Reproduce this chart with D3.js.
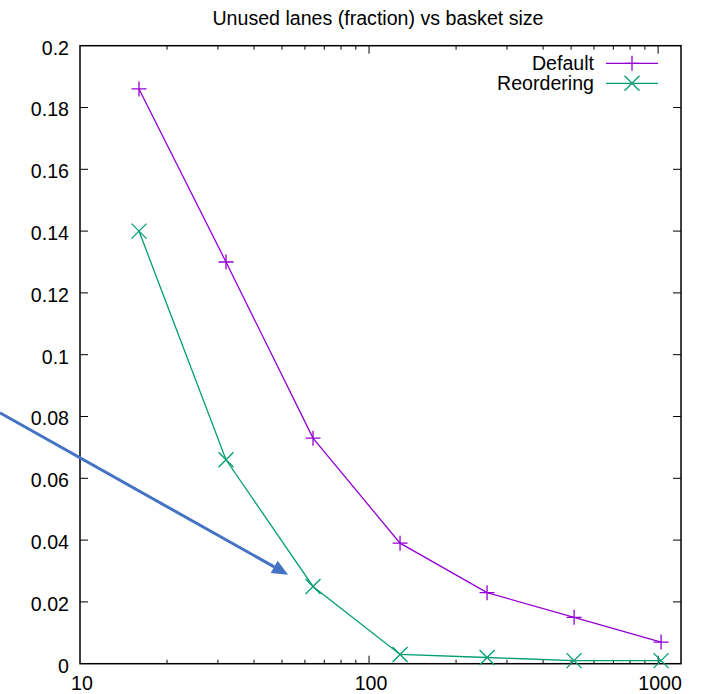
<!DOCTYPE html>
<html>
<head>
<meta charset="utf-8">
<script src="https://cdn.jsdelivr.net/npm/d3@7"></script>
<style>
  html, body { margin: 0; padding: 0; background: #fff; }
  svg { display: block; }
  text { font-family: "Liberation Sans", Arial, Helvetica, sans-serif; }
</style>
</head>
<body>
<svg id="chart" width="701" height="694"></svg>
<script>
// ---- data ----
const basketSizes = [16, 32, 64, 128, 256, 512, 1024];
const defaultValues = [0.186, 0.130, 0.073, 0.039, 0.023, 0.015, 0.007];
const reorderingValues = [0.140, 0.066, 0.025, 0.003, 0.002, 0.001, 0.001];
const seriesNames = ["Default", "Reordering"];
const xTickValues = [10, 100, 1000];
const xTickLabels = ["10", "100", "1000"];
const xMinorTicks = [20, 30, 40, 50, 60, 70, 80, 90, 200, 300, 400, 500, 600, 700, 800, 900];
const yTickValues = [0, 0.02, 0.04, 0.06, 0.08, 0.1, 0.12, 0.14, 0.16, 0.18, 0.2];
const yTickLabels = ["0", "0.02", "0.04", "0.06", "0.08", "0.1", "0.12", "0.14", "0.16", "0.18", "0.2"];
const titleText = "Unused lanes (fraction) vs basket size";
// annotation arrow (data coordinates): start (off left edge) -> tip
const arrowStart = [5.28, 0.0812];
const arrowTip = [52.5, 0.0288];

(function () {
// ---- layout ----
const svg = d3.select("#chart");
const mLeft = 80, mRight = 681, mTop = 45.7, mBottom = 663.7;
const x = d3.scaleLog().domain([10, 1200]).range([mLeft, mRight]);
const y = d3.scaleLinear().domain([0, 0.2]).range([mBottom, mTop]);
const fontSize = 19.6;
const colors = ["#9400d3", "#009e73"];

// title
svg.append("text")
  .attr("x", 378).attr("y", 25)
  .attr("text-anchor", "middle")
  .attr("font-size", fontSize)
  .attr("fill", "#000")
  .text(titleText);

const axes = svg.append("g");
const majorLen = 8, minorLen = 4;

// y ticks (left and mirrored right) + labels
yTickValues.forEach((v, i) => {
  const yy = y(v);
  if (v > 0 && v < 0.2) {
    axes.append("line").attr("x1", mLeft).attr("x2", mLeft + majorLen).attr("y1", yy).attr("y2", yy)
      .attr("stroke", "#000").attr("stroke-width", 1);
    axes.append("line").attr("x1", mRight).attr("x2", mRight - majorLen).attr("y1", yy).attr("y2", yy)
      .attr("stroke", "#000").attr("stroke-width", 1);
  }
  axes.append("text")
    .attr("x", mLeft - 11).attr("y", yy + 8.8)
    .attr("text-anchor", "end")
    .attr("font-size", fontSize)
    .text(yTickLabels[i]);
});

// x major ticks + labels
xTickValues.forEach((v, i) => {
  const xx = x(v);
  if (v > 10) {
    axes.append("line").attr("x1", xx).attr("x2", xx).attr("y1", mBottom).attr("y2", mBottom - majorLen)
      .attr("stroke", "#000").attr("stroke-width", 1);
    axes.append("line").attr("x1", xx).attr("x2", xx).attr("y1", mTop).attr("y2", mTop + majorLen)
      .attr("stroke", "#000").attr("stroke-width", 1);
  }
  axes.append("text")
    .attr("x", xx + 2).attr("y", 690)
    .attr("text-anchor", "middle")
    .attr("font-size", fontSize)
    .text(xTickLabels[i]);
});
// x minor ticks
xMinorTicks.forEach(v => {
  const xx = x(v);
  axes.append("line").attr("x1", xx).attr("x2", xx).attr("y1", mBottom).attr("y2", mBottom - minorLen)
    .attr("stroke", "#000").attr("stroke-width", 1);
  axes.append("line").attr("x1", xx).attr("x2", xx).attr("y1", mTop).attr("y2", mTop + minorLen)
    .attr("stroke", "#000").attr("stroke-width", 1);
});

// border
svg.append("rect")
  .attr("x", mLeft).attr("y", mTop)
  .attr("width", mRight - mLeft).attr("height", mBottom - mTop)
  .attr("fill", "none").attr("stroke", "#000").attr("stroke-width", 1.5);

// series
const series = [defaultValues, reorderingValues];
const line = d3.line().x(d => x(d[0])).y(d => y(d[1]));
const ms = 7.5;

function drawMarker(g, cx, cy, type, color) {
  if (type === 0) {
    g.append("path").attr("d", `M${cx - ms},${cy}H${cx + ms}M${cx},${cy - ms}V${cy + ms}`)
      .attr("stroke", color).attr("stroke-width", 1.3).attr("fill", "none");
  } else {
    g.append("path").attr("d", `M${cx - ms},${cy - ms}L${cx + ms},${cy + ms}M${cx - ms},${cy + ms}L${cx + ms},${cy - ms}`)
      .attr("stroke", color).attr("stroke-width", 1.3).attr("fill", "none");
  }
}

series.forEach((vals, si) => {
  const pts = basketSizes.map((b, i) => [b, vals[i]]);
  const g = svg.append("g");
  g.append("path").attr("d", line(pts))
    .attr("fill", "none").attr("stroke", colors[si]).attr("stroke-width", 1.3);
  pts.forEach(p => drawMarker(g, x(p[0]), y(p[1]), si, colors[si]));
});

// legend
const legendY = [63.3, 83.3];
seriesNames.forEach((name, si) => {
  const g = svg.append("g");
  g.append("text")
    .attr("x", 594).attr("y", legendY[si] + 7)
    .attr("text-anchor", "end")
    .attr("font-size", fontSize)
    .text(name);
  g.append("line").attr("x1", 606).attr("x2", 658).attr("y1", legendY[si]).attr("y2", legendY[si])
    .attr("stroke", colors[si]).attr("stroke-width", 1.3);
  drawMarker(g, 632, legendY[si], si, colors[si]);
});

// annotation arrow
const x0 = x(arrowStart[0]), y0 = y(arrowStart[1]);
const x1 = x(arrowTip[0]), y1 = y(arrowTip[1]);
const ang = Math.atan2(y1 - y0, x1 - x0);
const headLen = 16, headHalf = 7;
const bx = x1 - headLen * Math.cos(ang), by = y1 - headLen * Math.sin(ang);
svg.append("line")
  .attr("x1", x0).attr("y1", y0).attr("x2", bx).attr("y2", by)
  .attr("stroke", "#4472c4").attr("stroke-width", 3);
svg.append("path")
  .attr("d", `M${x1},${y1}L${bx - headHalf * Math.sin(ang)},${by + headHalf * Math.cos(ang)}L${bx + headHalf * Math.sin(ang)},${by - headHalf * Math.cos(ang)}Z`)
  .attr("fill", "#4472c4");
})();
</script>
</body>
</html>
